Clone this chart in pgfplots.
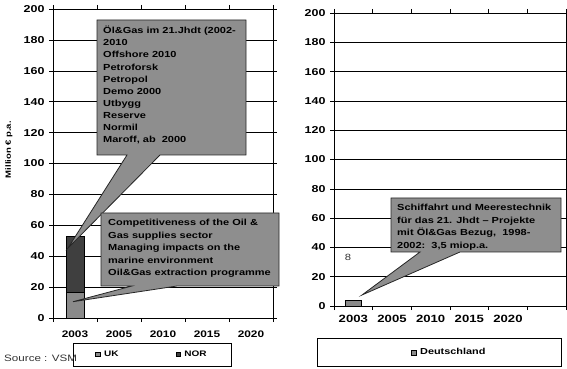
\documentclass[border=0pt]{standalone}
\usepackage{fontspec}
\setmainfont{Liberation Sans}[FakeStretch=1.25]
\usepackage{pgfplots}
\pgfplotsset{compat=1.18}
\definecolor{cg}{HTML}{8E8E8E}
\definecolor{uk}{HTML}{8A8A8A}
\definecolor{nor}{HTML}{3F3F3F}
\newcommand{\fs}[2]{\fontsize{#1}{#2}\selectfont}
\newcommand{\ytl}{\bfseries\fs{10}{11}}
\pgfplotsset{
  mybox/.style={
    scale only axis,
    anchor=south west,
    ymin=0, ymax=200,
    ytick={0,20,40,60,80,100,120,140,160,180,200},
    yticklabels={{\ytl 0},{\ytl 20},{\ytl 40},{\ytl 60},{\ytl 80},{\ytl 100},{\ytl 120},{\ytl 140},{\ytl 160},{\ytl 180},{\ytl 200}},
    minor ytick={0,20,...,200},
    ymajorgrids,
    major grid style={black,line width=0.5pt},
    axis line style={black,line width=0.7pt},
    major tick length=0pt,
    minor tick length=4pt,
    tick align=outside,
    minor tick style={black,line width=0.5pt},
    yticklabel style={font=\ytl, xshift=-5pt},
  }
}
\begin{document}
\begin{tikzpicture}
\path[use as bounding box] (0pt,0pt) rectangle (567pt,369pt);
% left chart
\begin{axis}[mybox,
  at={(53pt,51pt)}, width=220pt, height=309pt,
  xmin=-0.5, xmax=4.5,
  xtick={0,1,2,3,4}, xticklabels={2003,2005,2010,2015,2020},
  minor xtick={-0.5,0.5,1.5,2.5,3.5,4.5},
  xticklabel style={font=\bfseries\fs{9.5}{10}, yshift=-9pt},
  ybar stacked, bar width=0.4,
  ylabel={Million € p.a.},
  ylabel style={at={(axis description cs:-0.2,0.545)}, anchor=center, font=\bfseries\fs{7.6}{9}},
  legend image code/.code={\draw[#1,line width=0.4pt] (0pt,-2.2pt) rectangle (4.4pt,2.2pt); \path[draw=none,fill=none] (0pt,0pt) -- (6.5pt,0pt);},
  legend style={at={(0.45,-0.118)}, anchor=center, legend columns=2, draw=black, line width=0.6pt,
    font=\bfseries\fs{8}{9}, inner xsep=22.5pt, inner ysep=6pt,
    /tikz/every even column/.append style={column sep=55pt}},
]
\addplot[fill=uk,draw=black,line width=0.5pt] coordinates {(0,16.6)};
\addlegendentry{UK}
\addplot[fill=nor,draw=black,line width=0.5pt] coordinates {(0,36.5)};
\addlegendentry{NOR}
\end{axis}
% right chart
\begin{axis}[mybox,
  at={(334pt,63pt)}, width=232pt, height=293pt,
  xmin=-0.5, xmax=5.5,
  xtick={0,1,2,3,4}, xticklabels={2003,2005,2010,2015,2020},
  minor xtick={-0.5,0.5,1.5,2.5,3.5,4.5,5.5},
  xticklabel style={font=\bfseries\fs{10.5}{12}, yshift=-6pt},
  ybar, bar width=0.41,
  legend image code/.code={\path[draw=none,fill=none] (-20pt,0pt) -- (0pt,0pt); \draw[#1,line width=0.4pt] (0pt,-2.2pt) rectangle (4.4pt,2.2pt); \path[draw=none,fill=none] (0pt,0pt) -- (6.5pt,0pt);},
  legend style={at={(0.455,-0.159)}, anchor=center, draw=black, line width=0.6pt,
    font=\bfseries\fs{8.7}{10}, inner xsep=74pt, inner ysep=8pt},
]
\addplot[fill=uk,draw=black,line width=0.5pt] coordinates {(0,4)};
\addlegendentry{Deutschland}
\end{axis}
% annotations
\begin{scope}[x=1pt,y=1pt]
\draw[fill=cg,draw=black!85,line width=0.8pt]
  (97,349) -- (246,349) -- (246,214) -- (160,214) -- (68,121) -- (127,214) -- (97,214) -- cycle;
\node[anchor=north west, inner sep=0pt, align=left, font=\bfseries\fs{8.8}{12.1}]
  at (103,343) {Öl\&Gas im 21.Jhdt (2002-\\2010\\Offshore 2010\\Petroforsk\\Petropol\\Demo 2000\\Utbygg\\Reserve\\Normil\\Maroff, ab\ \ 2000};
\draw[fill=cg,draw=black!85,line width=0.8pt]
  (101,156) -- (279,156) -- (279,83) -- (177,83) -- (73,67.3) -- (132,83) -- (101,83) -- cycle;
\node[anchor=north west, inner sep=0pt, align=left, font=\bfseries\fs{8.8}{12.5}]
  at (108,150) {Competitiveness of the Oil \&\\Gas supplies sector\\Managing impacts on the\\marine environment\\Oil\&Gas extraction programme};
\draw[fill=cg,draw=black!85,line width=0.8pt]
  (391,171) -- (561,171) -- (561,117) -- (460,117) -- (362,74) -- (420,117) -- (391,117) -- cycle;
\node[anchor=north west, inner sep=0pt, align=left, font=\bfseries\fs{8.8}{12.5}]
  at (397,165) {Schiffahrt und Meerestechnik\\für das 21. Jhdt – Projekte\\mit Öl\&Gas Bezug,\ \ 1998-\\2002:\ \ 3,5 miop.a.};
\node[anchor=center, inner sep=0pt, font=\fs{9}{10}, text=black!80] at (348,112) {8};
\node[anchor=west, inner sep=0pt, font=\fs{9.3}{10}, text=black!80] at (4,10.3) {Source : VSM};
\end{scope}
\end{tikzpicture}
\end{document}
